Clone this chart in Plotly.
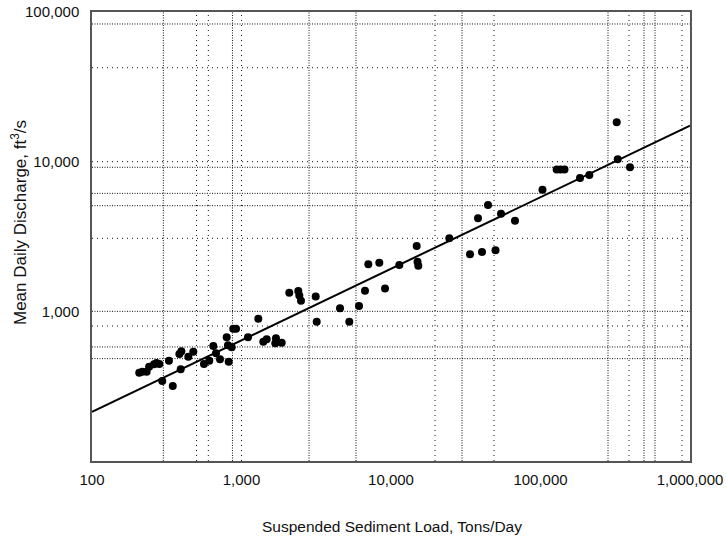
import plotly.graph_objects as go

# Observed data: suspended sediment load (tons/day) vs mean daily discharge (ft3/s)
sediment_load = [207, 217, 232, 241, 260, 270, 282, 295, 327, 347, 384, 396, 392, 441, 476,
                 561, 609, 648, 675, 718, 796, 812, 821, 860, 881, 919,
                 1105, 1295, 1399, 1474, 1700, 1683, 1857, 2088, 2399, 2436, 2500, 3135, 3184,
                 4560, 5261, 6109, 6700, 7052, 8350, 9120, 11365, 14857, 15040, 15226,
                 24550, 33770, 40610, 50000, 38190, 44550, 54440, 67500,
                 103100, 128300, 136100, 144700, 183800, 212100, 323400, 328500, 396900]
discharge = [389, 395, 395, 427, 443, 452, 445, 342, 468, 317, 519, 541, 410, 498, 538,
             445, 468, 587, 524, 478, 671, 593, 461, 575, 766, 766,
             671, 893, 627, 651, 661, 612, 617, 1332, 1367, 1276, 1178, 1256, 853,
             1048, 853, 1086, 1373, 2062, 2113, 1421, 2040, 2733, 2146, 2018,
             3076, 2405, 2492, 2557, 4183, 5134, 4492, 4033,
             6497, 8867, 8867, 8867, 7779, 8146, 18320, 10370, 9171]

# Fitted regression line end points
fit_load = [100, 1000000]
fit_discharge = [213, 17400]

# Axis ticks
x_tickvals = [100, 1000, 10000, 100000, 1000000]
x_ticktext = ["100", "1,000", "10,000", "100,000", "1,000,000"]
y_tickvals = [1000, 10000, 100000]
y_ticktext = ["1,000", "10,000", "100,000"]

# Dotted grid lines as they appear on the chart (irregular positions)
x_grid_dense = [300, 870, 2830, 5830, 29850, 282800, 492500, 583300]
x_grid_sparse = [500, 600, 1000, 19700, 48870, 390800, 884000]
y_grid_dense = [83150, 9171, 6140, 5080, 1000, 578, 483]
y_grid_sparse = [42440, 10000, 3076, 798]

X_RANGE = [100, 1000000]
Y_RANGE = [100, 100000]


def vlines(vals):
    xs, ys = [], []
    for v in vals:
        xs += [v, v, None]
        ys += [Y_RANGE[0], Y_RANGE[1], None]
    return xs, ys


def hlines(vals):
    xs, ys = [], []
    for v in vals:
        xs += [X_RANGE[0], X_RANGE[1], None]
        ys += [v, v, None]
    return xs, ys


fig = go.Figure()

grid_col = "#111111"
for fn, vals, dash in [(vlines, x_grid_dense, "1px,1.5px"), (vlines, x_grid_sparse, "1px,4px"),
                       (hlines, y_grid_dense, "1px,1.5px"), (hlines, y_grid_sparse, "1px,4px")]:
    gx, gy = fn(vals)
    fig.add_trace(go.Scatter(x=gx, y=gy, mode="lines", showlegend=False, hoverinfo="skip",
                             line=dict(color=grid_col, width=1, dash=dash)))

fig.add_trace(go.Scatter(x=fit_load, y=fit_discharge, mode="lines", showlegend=False,
                         line=dict(color="black", width=2)))
fig.add_trace(go.Scatter(x=sediment_load, y=discharge, mode="markers", showlegend=False,
                         marker=dict(color="black", size=8, line=dict(width=0))))

font_family = "Liberation Sans, Arial, sans-serif"

fig.update_layout(
    width=727, height=537,
    margin=dict(l=92, r=37, t=12, b=76),
    paper_bgcolor="white", plot_bgcolor="white",
    font=dict(family=font_family, size=15, color="#111"),
    xaxis=dict(type="log", range=[2, 6], showgrid=False, zeroline=False, automargin=False,
               tickvals=x_tickvals, ticktext=x_ticktext, ticks="",
               ticklabelstandoff=4,
               showline=True, linecolor="#555", linewidth=1.5, mirror=True),
    yaxis=dict(type="log", range=[2, 5], showgrid=False, zeroline=False, automargin=False,
               tickvals=y_tickvals, ticktext=y_ticktext, ticks="",
               ticklabelstandoff=8,
               showline=True, linecolor="#555", linewidth=1.5, mirror=True),
    annotations=[
        dict(text="Suspended Sediment Load, Tons/Day", xref="paper", yref="paper",
             x=(392 - 92) / 598, y=-(526 - 461) / 449, showarrow=False,
             xanchor="center", yanchor="middle", font=dict(size=15.5)),
        dict(text="Mean Daily Discharge, ft<sup>3</sup>/s", xref="paper", yref="paper",
             x=-(92 - 19) / 598, y=(461 - 223) / 449, showarrow=False, textangle=-90,
             xanchor="center", yanchor="middle", font=dict(size=17)),
    ],
)

fig.write_html("out.html", config={"displayModeBar": False},
               post_script="document.body.style.margin='0';")
